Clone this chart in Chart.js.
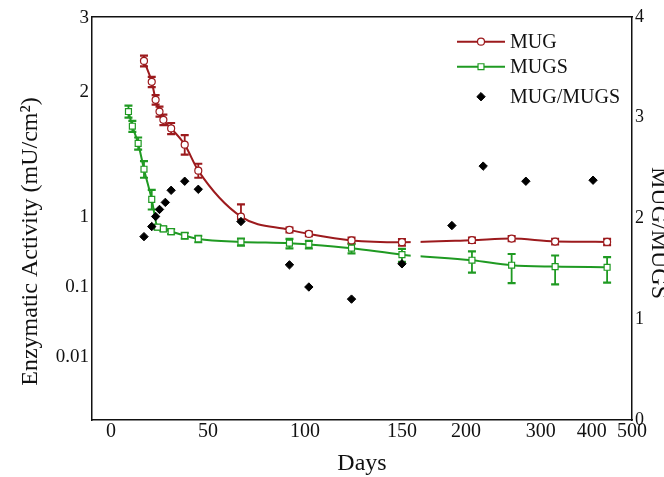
<!DOCTYPE html>
<html>
<head>
<meta charset="utf-8">
<script src="https://cdn.jsdelivr.net/npm/chart.js@4.4.0/dist/chart.umd.min.js"></script>
<style>
html, body { margin: 0; padding: 0; background: #fff; }
</style>
</head>
<body>
<canvas id="chart" width="664" height="477"></canvas>
<script>
var mugDays = [17, 21, 23, 25, 27, 31, 38, 45, 67, 92, 102, 124, 150, 208, 261, 328, 438];
var mugValues = [2.37, 2.11, 1.91, 1.79, 1.71, 1.63, 1.49, 1.29, 1.0, 0.646, 0.566, 0.457, 0.431, 0.46, 0.485, 0.44, 0.435];
var mugErrors = [0.07, 0.06, 0.05, 0.05, 0.05, 0.05, 0.08, 0.05, 0.07, 0.05, 0.04, 0.045, 0.045, 0.04, 0.04, 0.04, 0.045];

var mugsDays = [9, 11, 14, 17, 21, 24, 27, 31, 38, 45, 67, 92, 102, 124, 150, 208, 261, 328, 438];
var mugsValues = [1.79, 1.65, 1.50, 1.30, 1.10, 0.706, 0.667, 0.611, 0.535, 0.48, 0.435, 0.417, 0.40, 0.354, 0.286, 0.238, 0.202, 0.193, 0.189];
var mugsErrors = [0.06, 0.05, 0.05, 0.06, 0.06, 0.05, 0.05, 0.05, 0.05, 0.05, 0.05, 0.065, 0.05, 0.055, 0.06, 0.08, 0.09, 0.085, 0.075];

var ratioDays = [17, 21, 23, 25, 28, 31, 38, 45, 67, 92, 102, 124, 150, 189, 223, 280, 403];
var ratioValues = [1.82, 1.92, 2.02, 2.09, 2.16, 2.28, 2.37, 2.29, 1.97, 1.54, 1.32, 1.20, 1.55, 1.93, 2.52, 2.37, 2.38];

var xTickValues = [0, 50, 100, 150, 200, 300, 400, 500];
var yTickValues = [0.01, 0.1, 1, 2, 3];
var yTickLabels = ['0.01', '0.1', '1', '2', '3'];

// both axes are broken in the original: days past 150 are squeezed,
// activity above 1 is stretched (one lower decade = 1 unit)
var xBreakDays = [150, 200, 300, 400, 500];
var xBreakPos = [150, 183.0, 221.6, 247.9, 268.6];
var upperDecade = 5.93;

var red = '#9c1a1d';
var green = '#1f9a22';

function xMap(d) {
    if (d <= xBreakDays[0]) return d;
    for (var i = 1; i < xBreakDays.length; i++) {
        if (d <= xBreakDays[i] || i == xBreakDays.length - 1) {
            var t = (d - xBreakDays[i - 1]) / (xBreakDays[i] - xBreakDays[i - 1]);
            return xBreakPos[i - 1] + t * (xBreakPos[i] - xBreakPos[i - 1]);
        }
    }
}

function yMap(v) {
    var l = Math.log10(v);
    return l >= 0 ? l * upperDecade : l;
}

function points(days, values, map) {
    return days.map(function (d, i) {
        return { x: xMap(d), y: map ? map(values[i]) : values[i] };
    });
}

function marker(ctx, style, x, y, r) {
    ctx.beginPath();
    if (style == 'circle') {
        ctx.arc(x, y, r, 0, Math.PI * 2);
    } else if (style == 'rect') {
        var s = r * Math.SQRT1_2;
        ctx.rect(x - s, y - s, 2 * s, 2 * s);
    } else {
        ctx.moveTo(x - r, y);
        ctx.lineTo(x, y - r);
        ctx.lineTo(x + r, y);
        ctx.lineTo(x, y + r);
        ctx.closePath();
    }
    ctx.fill();
    ctx.stroke();
}

var errorBars = {
    id: 'errorBars',
    beforeDatasetsDraw: function (chart) {
        var ctx = chart.ctx;
        var yScale = chart.scales.y;
        chart.data.datasets.forEach(function (ds, i) {
            if (!ds.errors) return;
            var meta = chart.getDatasetMeta(i);
            ctx.save();
            ctx.strokeStyle = ds.borderColor;
            meta.data.forEach(function (pt, j) {
                var v = ds.values[j], e = ds.errors[j];
                var top = yScale.getPixelForValue(yMap(v + e));
                var bot = yScale.getPixelForValue(yMap(Math.max(v - e, 0.002)));
                ctx.lineWidth = 1.8;
                ctx.beginPath();
                ctx.moveTo(pt.x, top);
                ctx.lineTo(pt.x, bot);
                ctx.stroke();
                ctx.lineWidth = 2.2;
                ctx.beginPath();
                ctx.moveTo(pt.x - 4, top);
                ctx.lineTo(pt.x + 4, top);
                ctx.moveTo(pt.x - 4, bot);
                ctx.lineTo(pt.x + 4, bot);
                ctx.stroke();
            });
            ctx.restore();
        });
    }
};

var axisBreak = {
    id: 'axisBreak',
    afterDatasetsDraw: function (chart) {
        var ctx = chart.ctx, a = chart.chartArea, x = chart.scales.x;
        var x0 = x.getPixelForValue(154.5), x1 = x.getPixelForValue(159.6);
        ctx.save();
        ctx.fillStyle = '#fff';
        ctx.fillRect(x0, a.top + 2, x1 - x0, a.bottom - a.top - 4);
        ctx.restore();
    }
};

var labels = {
    id: 'labels',
    afterDraw: function (chart) {
        var ctx = chart.ctx, a = chart.chartArea;
        ctx.save();
        ctx.fillStyle = '#111';
        ctx.font = "24px 'Liberation Serif'";
        ctx.textAlign = 'center';
        ctx.textBaseline = 'alphabetic';
        ctx.fillText('Days', (a.left + a.right) / 2, 470);

        ctx.save();
        ctx.translate(37, 241.5);
        ctx.rotate(-Math.PI / 2);
        ctx.fillText('Enzymatic Activity (mU/cm\u00b2)', 0, 0);
        ctx.restore();

        ctx.save();
        ctx.translate(652, 233);
        ctx.rotate(Math.PI / 2);
        ctx.fillText('MUG/MUGS', 0, 0);
        ctx.restore();

        // legend, top right inside the frame
        ctx.font = "20px 'Liberation Serif'";
        ctx.textAlign = 'left';
        var rows = [41.7, 66.7, 96.7];
        chart.data.datasets.forEach(function (ds, i) {
            var y = rows[i];
            var x0 = a.left + 365, xm = a.left + 389;
            if (ds.showLine !== false) {
                ctx.strokeStyle = ds.borderColor;
                ctx.lineWidth = 2;
                ctx.beginPath();
                ctx.moveTo(x0, y);
                ctx.lineTo(x0 + 48, y);
                ctx.stroke();
            }
            ctx.fillStyle = ds.pointBackgroundColor;
            ctx.strokeStyle = ds.pointBorderColor;
            ctx.lineWidth = ds.pointBorderWidth;
            marker(ctx, ds.pointStyle, xm, y, ds.pointRadius);
            ctx.fillStyle = '#111';
            ctx.fillText(ds.label, a.left + 418, y + 6.6);
        });
        ctx.restore();
    }
};

Chart.defaults.font.family = "'Liberation Serif', 'Times New Roman', serif";
Chart.defaults.color = '#111';

var border = { display: true, color: '#111', width: 1.5 };
var noGrid = { display: false, drawTicks: false };

new Chart(document.getElementById('chart').getContext('2d'), {
    type: 'line',
    data: {
        datasets: [{
            label: 'MUG',
            data: points(mugDays, mugValues, yMap),
            values: mugValues,
            errors: mugErrors,
            yAxisID: 'y',
            borderColor: red,
            borderWidth: 2,
            cubicInterpolationMode: 'monotone',
            pointStyle: 'circle',
            pointRadius: 3.5,
            pointBackgroundColor: '#fff',
            pointBorderColor: red,
            pointBorderWidth: 1.2,
            order: 1
        }, {
            label: 'MUGS',
            data: points(mugsDays, mugsValues, yMap),
            values: mugsValues,
            errors: mugsErrors,
            yAxisID: 'y',
            borderColor: green,
            borderWidth: 2,
            cubicInterpolationMode: 'monotone',
            pointStyle: 'rect',
            pointRadius: 4.2,
            pointBackgroundColor: '#fff',
            pointBorderColor: green,
            pointBorderWidth: 1.2,
            order: 2
        }, {
            label: 'MUG/MUGS',
            data: points(ratioDays, ratioValues),
            yAxisID: 'y2',
            showLine: false,
            borderColor: '#000',
            pointStyle: 'rectRot',
            pointRadius: 4.2,
            pointBackgroundColor: '#000',
            pointBorderColor: '#000',
            pointBorderWidth: 1,
            order: 0
        }]
    },
    options: {
        responsive: false,
        devicePixelRatio: 1,
        animation: false,
        layout: { padding: { top: 17, left: 0, right: 0, bottom: 0 } },
        plugins: { legend: { display: false }, tooltip: { enabled: false } },
        scales: {
            x: {
                type: 'linear',
                position: 'bottom',
                min: -9.8,
                max: 268.6,
                afterFit: function (s) { s.height = 57; },
                afterBuildTicks: function (s) {
                    s.ticks = xTickValues.map(function (d) { return { value: xMap(d) }; });
                },
                ticks: {
                    autoSkip: false,
                    maxRotation: 0,
                    padding: 0,
                    font: { size: 20 },
                    callback: function (v, i) { return String(xTickValues[i]); }
                },
                grid: noGrid,
                border: border
            },
            xTop: {
                type: 'linear',
                position: 'top',
                min: -9.8,
                max: 268.6,
                afterFit: function (s) { s.height = 0; },
                ticks: { display: false },
                grid: noGrid,
                border: border
            },
            y: {
                type: 'linear',
                position: 'left',
                min: -2.904,
                max: 2.849,
                afterFit: function (s) { s.width = 92; },
                afterBuildTicks: function (s) {
                    s.ticks = yTickValues.map(function (v) { return { value: yMap(v) }; });
                },
                ticks: {
                    autoSkip: false,
                    padding: 3,
                    font: { size: 19 },
                    callback: function (v, i) { return yTickLabels[i]; }
                },
                grid: noGrid,
                border: border
            },
            y2: {
                type: 'linear',
                position: 'right',
                min: 0,
                max: 4,
                afterFit: function (s) { s.width = 32; },
                ticks: { stepSize: 1, padding: 3, font: { size: 18 } },
                grid: noGrid,
                border: border
            }
        }
    },
    plugins: [errorBars, axisBreak, labels]
});
</script>
</body>
</html>
